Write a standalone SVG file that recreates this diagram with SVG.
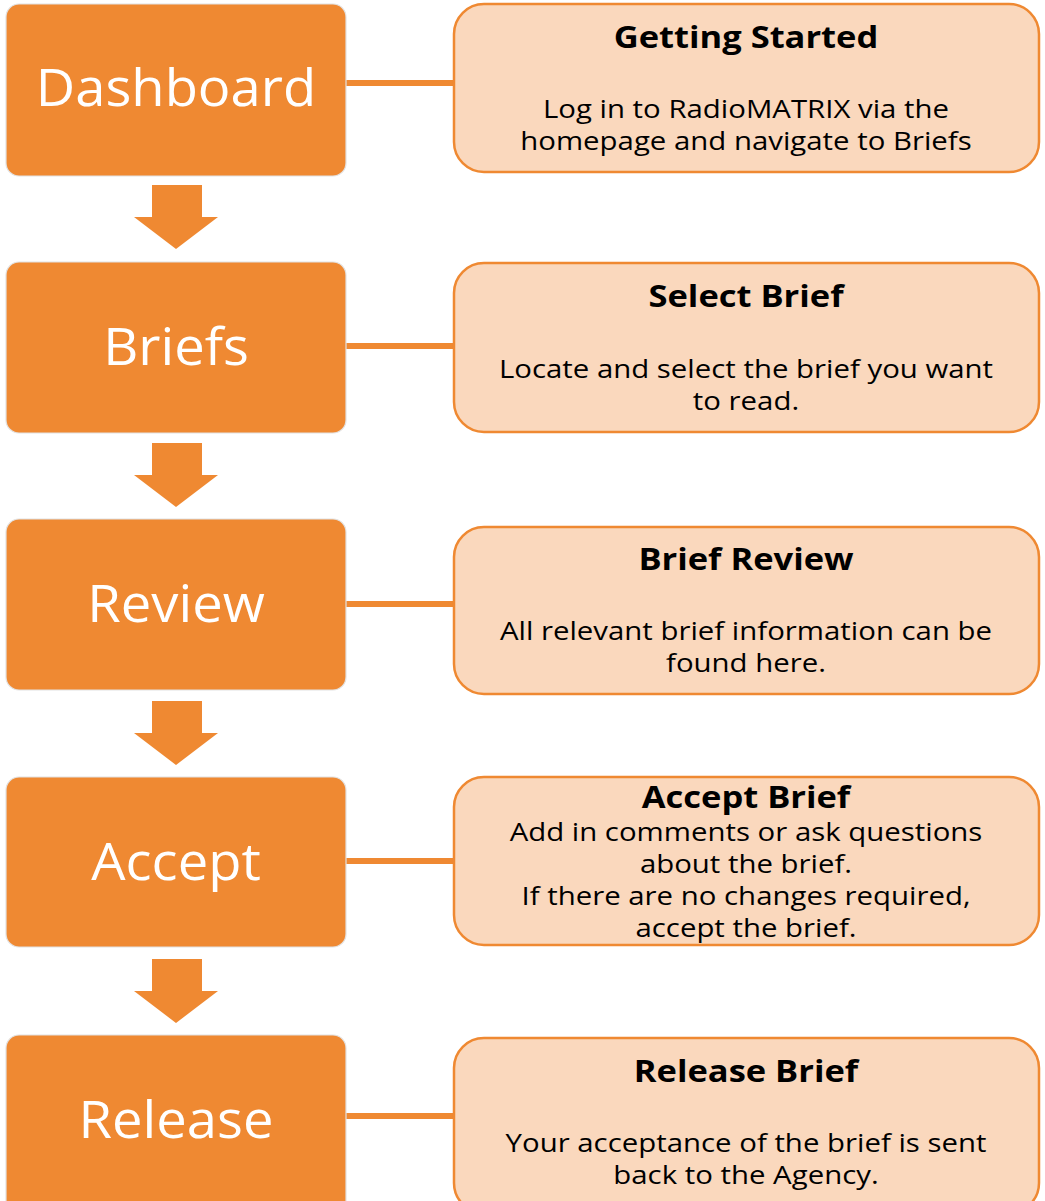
<svg xmlns="http://www.w3.org/2000/svg" width="1045" height="1201" viewBox="0 0 1045 1201">
<style>
.step{fill:#EF8932;stroke:#E2E2E2;stroke-width:1.2}
.info{fill:#FAD8BD;stroke:#EF8932;stroke-width:2.5}
.lbl{font-family:"Open Sans",sans-serif;font-size:52px;fill:#FFFFFF;text-anchor:middle}
.ttl{font-family:"Open Sans",sans-serif;font-size:30px;font-weight:bold;fill:#000000;text-anchor:middle}
.body{font-family:"Open Sans",sans-serif;font-size:26px;fill:#000000;text-anchor:middle}
.link{stroke:#EF8932;stroke-width:6}
.arrow{fill:#EF8932}
</style>
<rect width="1045" height="1201" fill="#FFFFFF"/>
<g id="connectors">
<line class="link" x1="346" y1="83" x2="454" y2="83"/>
<line class="link" x1="346" y1="346" x2="454" y2="346"/>
<line class="link" x1="346" y1="604" x2="454" y2="604"/>
<line class="link" x1="346" y1="861" x2="454" y2="861"/>
<line class="link" x1="346" y1="1116" x2="454" y2="1116"/>
<polygon class="arrow" points="152,185 202,185 202,217 218,217 176,249 134,217 152,217"/>
<polygon class="arrow" points="152,443 202,443 202,475 218,475 176,507 134,475 152,475"/>
<polygon class="arrow" points="152,701 202,701 202,733 218,733 176,765 134,733 152,733"/>
<polygon class="arrow" points="152,959 202,959 202,991 218,991 176,1023 134,991 152,991"/>
</g>
<g id="dashboard"><rect class="step" x="6" y="4" width="340" height="172" rx="13"/><text class="lbl" x="176" y="106" transform="matrix(1.045,0,0,1,-7.92,0)">Dashboard</text></g>
<g id="briefs"><rect class="step" x="6" y="262" width="340" height="171" rx="13"/><text class="lbl" x="176" y="365" transform="matrix(1.045,0,0,1,-7.92,0)">Briefs</text></g>
<g id="review"><rect class="step" x="6" y="519" width="340" height="171" rx="13"/><text class="lbl" x="176" y="622" transform="matrix(1.045,0,0,1,-7.92,0)">Review</text></g>
<g id="accept"><rect class="step" x="6" y="777" width="340" height="170" rx="13"/><text class="lbl" x="176" y="880" transform="matrix(1.045,0,0,1,-7.92,0)">Accept</text></g>
<g id="release"><rect class="step" x="6" y="1035" width="340" height="180" rx="13"/><text class="lbl" x="176" y="1138" transform="matrix(1.045,0,0,1,-7.92,0)">Release</text></g>
<g id="getting-started"><rect class="info" x="454" y="4" width="585" height="168" rx="30"/>
<text class="ttl" x="746" y="48" transform="matrix(1.15,0,0,1,-111.9,0)">Getting Started</text>
<g transform="matrix(1.13,0,0,1,-96.98,0)"><text class="body" x="746" y="118">Log in to RadioMATRIX via the</text><text class="body" x="746" y="150">homepage and navigate to Briefs</text></g></g>
<g id="select-brief"><rect class="info" x="454" y="263" width="585" height="169" rx="30"/>
<text class="ttl" x="746" y="307" transform="matrix(1.15,0,0,1,-111.9,0)">Select Brief</text>
<g transform="matrix(1.13,0,0,1,-96.98,0)"><text class="body" x="746" y="378">Locate and select the brief you want</text><text class="body" x="746" y="410">to read.</text></g></g>
<g id="brief-review"><rect class="info" x="454" y="527" width="585" height="167" rx="30"/>
<text class="ttl" x="746" y="570" transform="matrix(1.15,0,0,1,-111.9,0)">Brief Review</text>
<g transform="matrix(1.13,0,0,1,-96.98,0)"><text class="body" x="746" y="640">All relevant brief information can be</text><text class="body" x="746" y="672">found here.</text></g></g>
<g id="accept-brief"><rect class="info" x="454" y="777" width="585" height="168" rx="30"/>
<text class="ttl" x="746" y="808" transform="matrix(1.15,0,0,1,-111.9,0)">Accept Brief</text>
<g transform="matrix(1.13,0,0,1,-96.98,0)"><text class="body" x="746" y="841">Add in comments or ask questions</text><text class="body" x="746" y="873">about the brief.</text><text class="body" x="746" y="905">If there are no changes required,</text><text class="body" x="746" y="937">accept the brief.</text></g></g>
<g id="release-brief"><rect class="info" x="454" y="1038" width="585" height="175" rx="30"/>
<text class="ttl" x="746" y="1082" transform="matrix(1.15,0,0,1,-111.9,0)">Release Brief</text>
<g transform="matrix(1.13,0,0,1,-96.98,0)"><text class="body" x="746" y="1152">Your acceptance of the brief is sent</text><text class="body" x="746" y="1184">back to the Agency.</text></g></g>
</svg>
